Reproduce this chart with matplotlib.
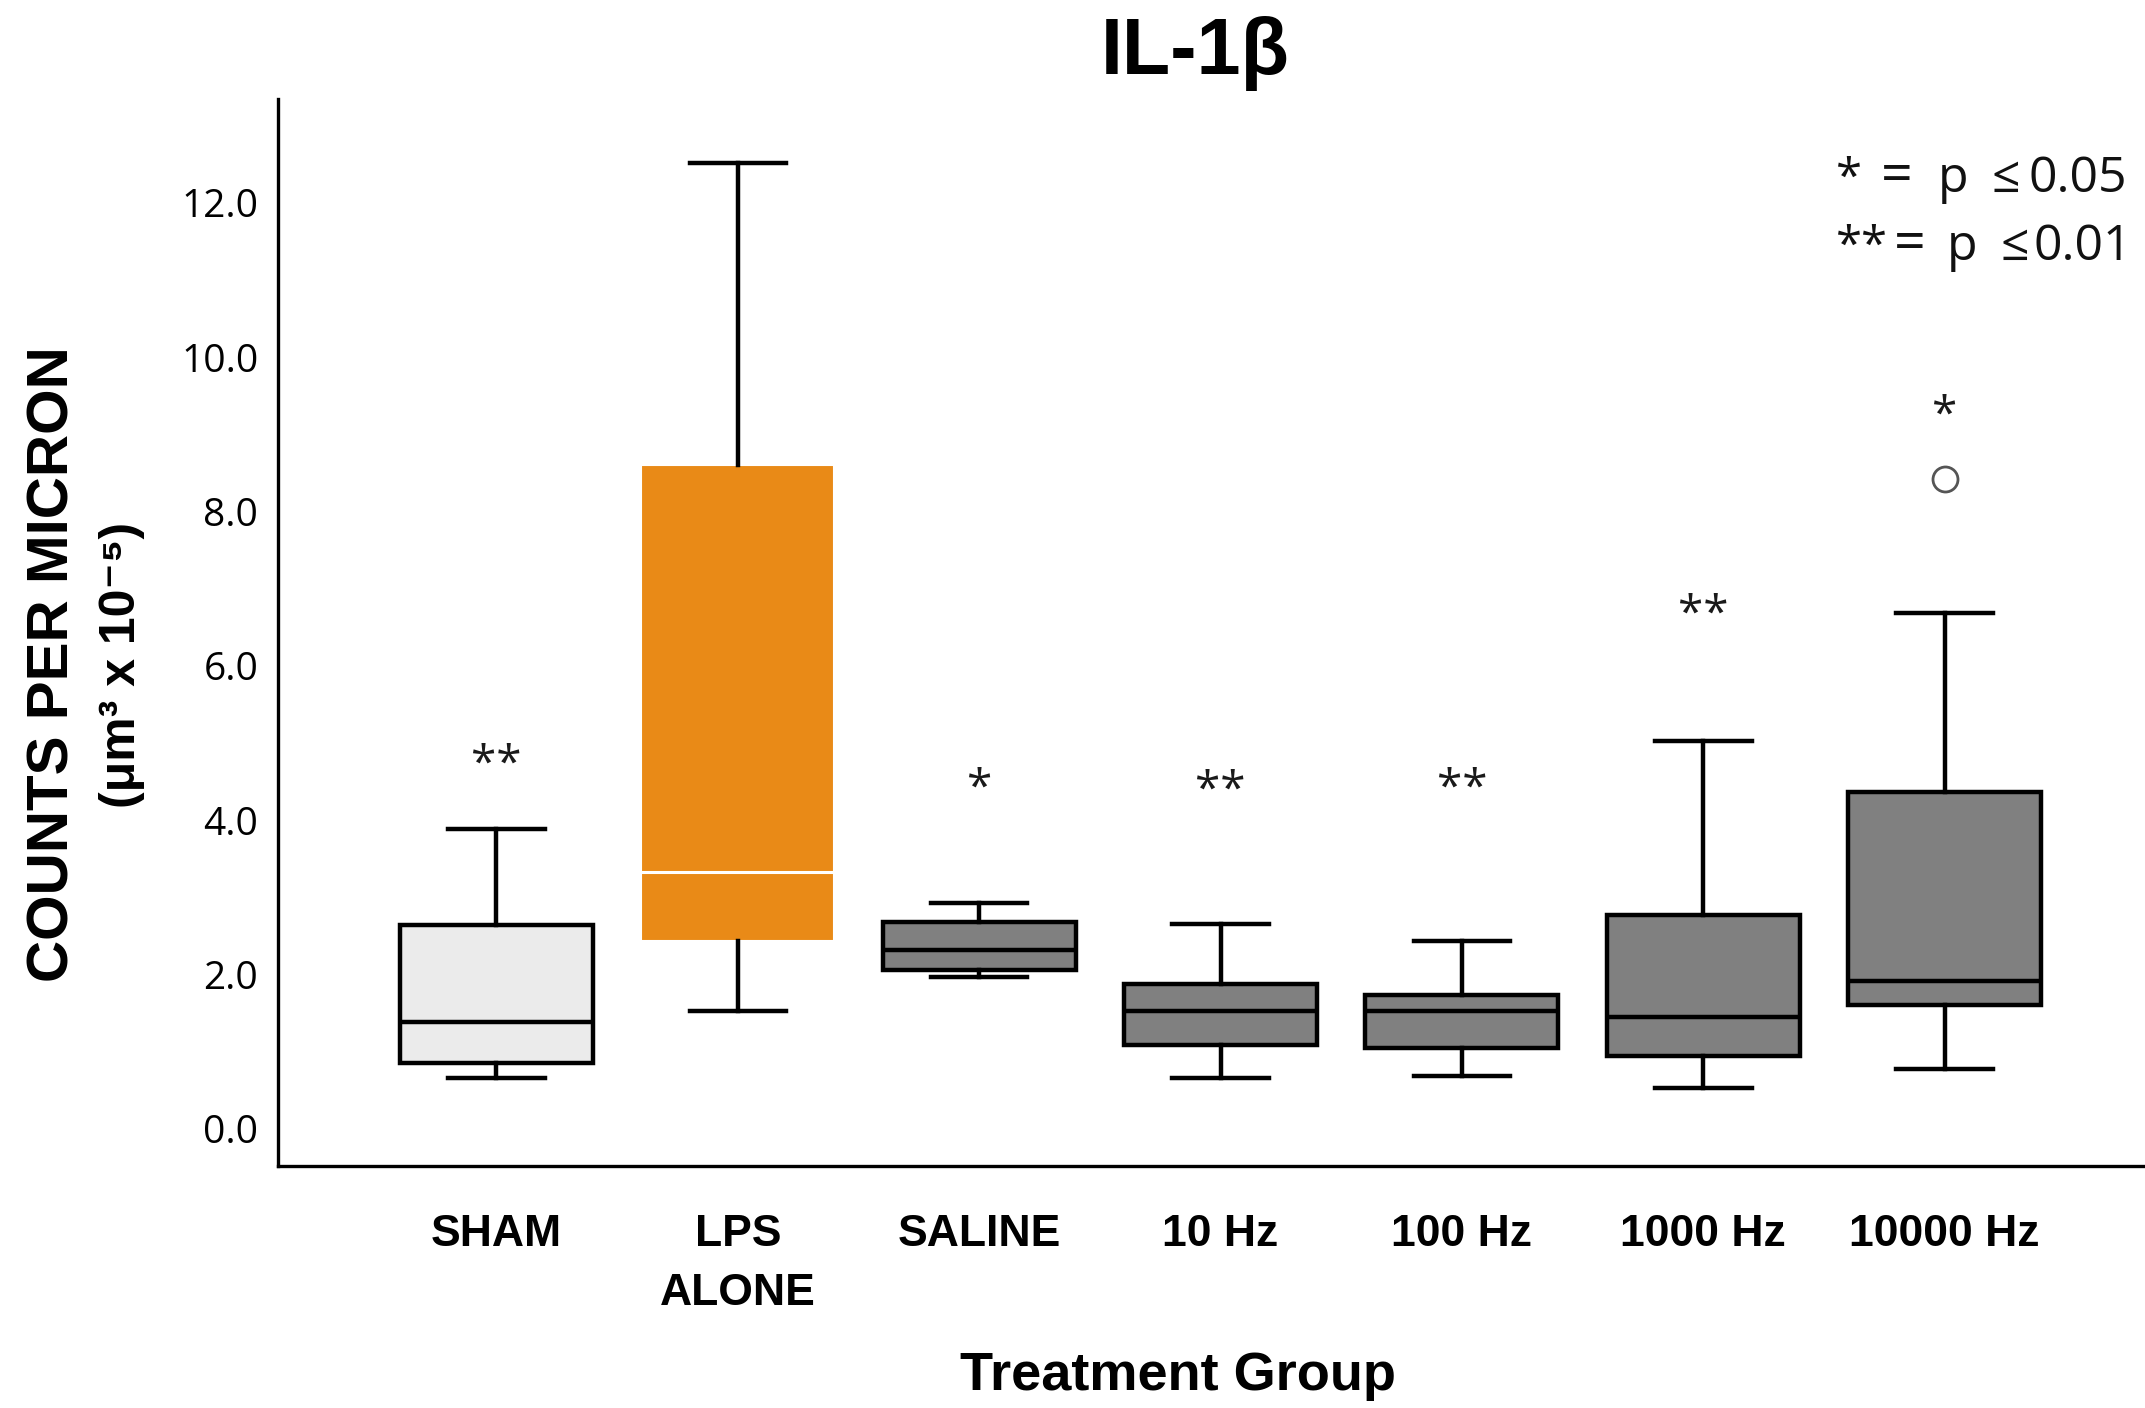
import matplotlib
matplotlib.use("Agg")
import matplotlib.pyplot as plt
from matplotlib import font_manager

# Treatment groups and box-plot summaries (counts per micron, µm^3 x 10^-5)
groups = ["SHAM", "LPS\nALONE", "SALINE", "10 Hz", "100 Hz", "1000 Hz", "10000 Hz"]
whisker_low = [0.66, 1.52, 1.97, 0.66, 0.69, 0.53, 0.78]
q1 = [0.85, 2.43, 2.06, 1.08, 1.05, 0.94, 1.60]
median = [1.38, 3.33, 2.32, 1.52, 1.52, 1.45, 1.91]
q3 = [2.64, 8.60, 2.68, 1.88, 1.74, 2.77, 4.36]
whisker_high = [3.88, 12.52, 2.93, 2.66, 2.43, 5.02, 6.68]
outliers = [[], [], [], [], [], [], [8.42]]

# Significance markers vs. LPS alone
sig_marks = ["**", "", "*", "**", "**", "**", "*"]
sig_height = [4.70, None, 4.40, 4.37, 4.40, 6.65, 9.23]

yticks = [0.0, 2.0, 4.0, 6.0, 8.0, 10.0, 12.0]

fill_colors = ["#ebebeb", "#e98a17", "#808080", "#808080", "#808080", "#808080", "#808080"]
edge_colors = ["black", "white", "black", "black", "black", "black", "black"]
median_colors = ["black", "white", "black", "black", "black", "black", "black"]

available = {f.name for f in font_manager.fontManager.ttflist}
num_font = "Open Sans" if "Open Sans" in available else "DejaVu Sans"
narrow_font = "Liberation Sans Narrow" if "Liberation Sans Narrow" in available else "Liberation Sans"

fig = plt.figure(figsize=(21.45, 14.08), dpi=100)
ax = fig.add_axes([0.1295, 0.172, 0.8705, 0.758])

stats = []
for i, g in enumerate(groups):
    stats.append(dict(label=g, whislo=whisker_low[i], q1=q1[i], med=median[i],
                      q3=q3[i], whishi=whisker_high[i], fliers=outliers[i]))

positions = list(range(len(groups)))
lw = 3.2
bp = ax.bxp(stats, positions=positions, widths=0.8, patch_artist=True,
            showfliers=True, capwidths=0.4,
            boxprops=dict(linewidth=lw),
            whiskerprops=dict(color="black", linewidth=lw),
            capprops=dict(color="black", linewidth=lw),
            medianprops=dict(linewidth=lw),
            flierprops=dict(marker="o", markersize=18, markerfacecolor="white",
                            markeredgecolor="#555555", markeredgewidth=2.0))

for i, box in enumerate(bp["boxes"]):
    box.set_facecolor(fill_colors[i])
    box.set_edgecolor(edge_colors[i])
    if edge_colors[i] == "white":
        box.set_linewidth(1.5)
for i, med in enumerate(bp["medians"]):
    med.set_color(median_colors[i])
    if median_colors[i] == "white":
        med.set_linewidth(2.2)

for i, (m, h) in enumerate(zip(sig_marks, sig_height)):
    if m:
        ax.text(positions[i], h, m, ha="center", va="center",
                fontsize=33, family=num_font, color="#1a1a1a")

ax.set_xlim(-0.906, 6.83)
ax.set_ylim(-0.48, 13.35)
ax.set_yticks(yticks)
ax.set_yticklabels([f"{v:.1f}" for v in yticks], family=num_font, fontsize=28)
ax.set_xticks(positions)
ax.set_xticklabels(groups, family="Liberation Sans", fontweight="bold",
                   fontsize=32, linespacing=1.55)
ax.tick_params(axis="y", length=0, pad=14)
ax.tick_params(axis="x", length=0, pad=35)
for lab in ax.get_xticklabels():
    lab.set_verticalalignment("top")

for s in ["top", "right"]:
    ax.spines[s].set_visible(False)
for s in ["left", "bottom"]:
    ax.spines[s].set_linewidth(2.4)

fig.text(0.557, 0.962, "IL-1β", ha="center", va="center",
         family="Liberation Sans", fontweight="bold", fontsize=57)
fig.text(0.549, 0.023, "Treatment Group", ha="center", va="center",
         family="Liberation Sans", fontweight="bold", fontsize=39)
fig.text(0.025, 0.528, "COUNTS PER MICRON", ha="center", va="center",
         rotation=90, family=narrow_font, fontweight="bold", fontsize=42)
fig.text(0.057, 0.528, "(μm³ x 10⁻⁵)", ha="center", va="center",
         rotation=90, family=["Liberation Sans", "DejaVu Sans"],
         fontweight="bold", fontsize=36)

# significance key, one piece per glyph group on a shared baseline
key_rows = [
    (0.8636, [("*", 0.8560, 34), ("=", 0.8770, 40), ("p", 0.9035, 36),
              ("≤", 0.9285, 36), ("0.05", 0.9458, 36)]),
    (0.8153, [("**", 0.8560, 34), ("=", 0.8830, 40), ("p", 0.9075, 36),
              ("≤", 0.9325, 36), ("0.01", 0.9480, 36)]),
]
for yb, pieces in key_rows:
    for txt, xl, fs in pieces:
        fig.text(xl, yb, txt, ha="left", va="baseline", family=num_font,
                 fontsize=fs, color="#111111")

fig.savefig("out.png", dpi=100)
